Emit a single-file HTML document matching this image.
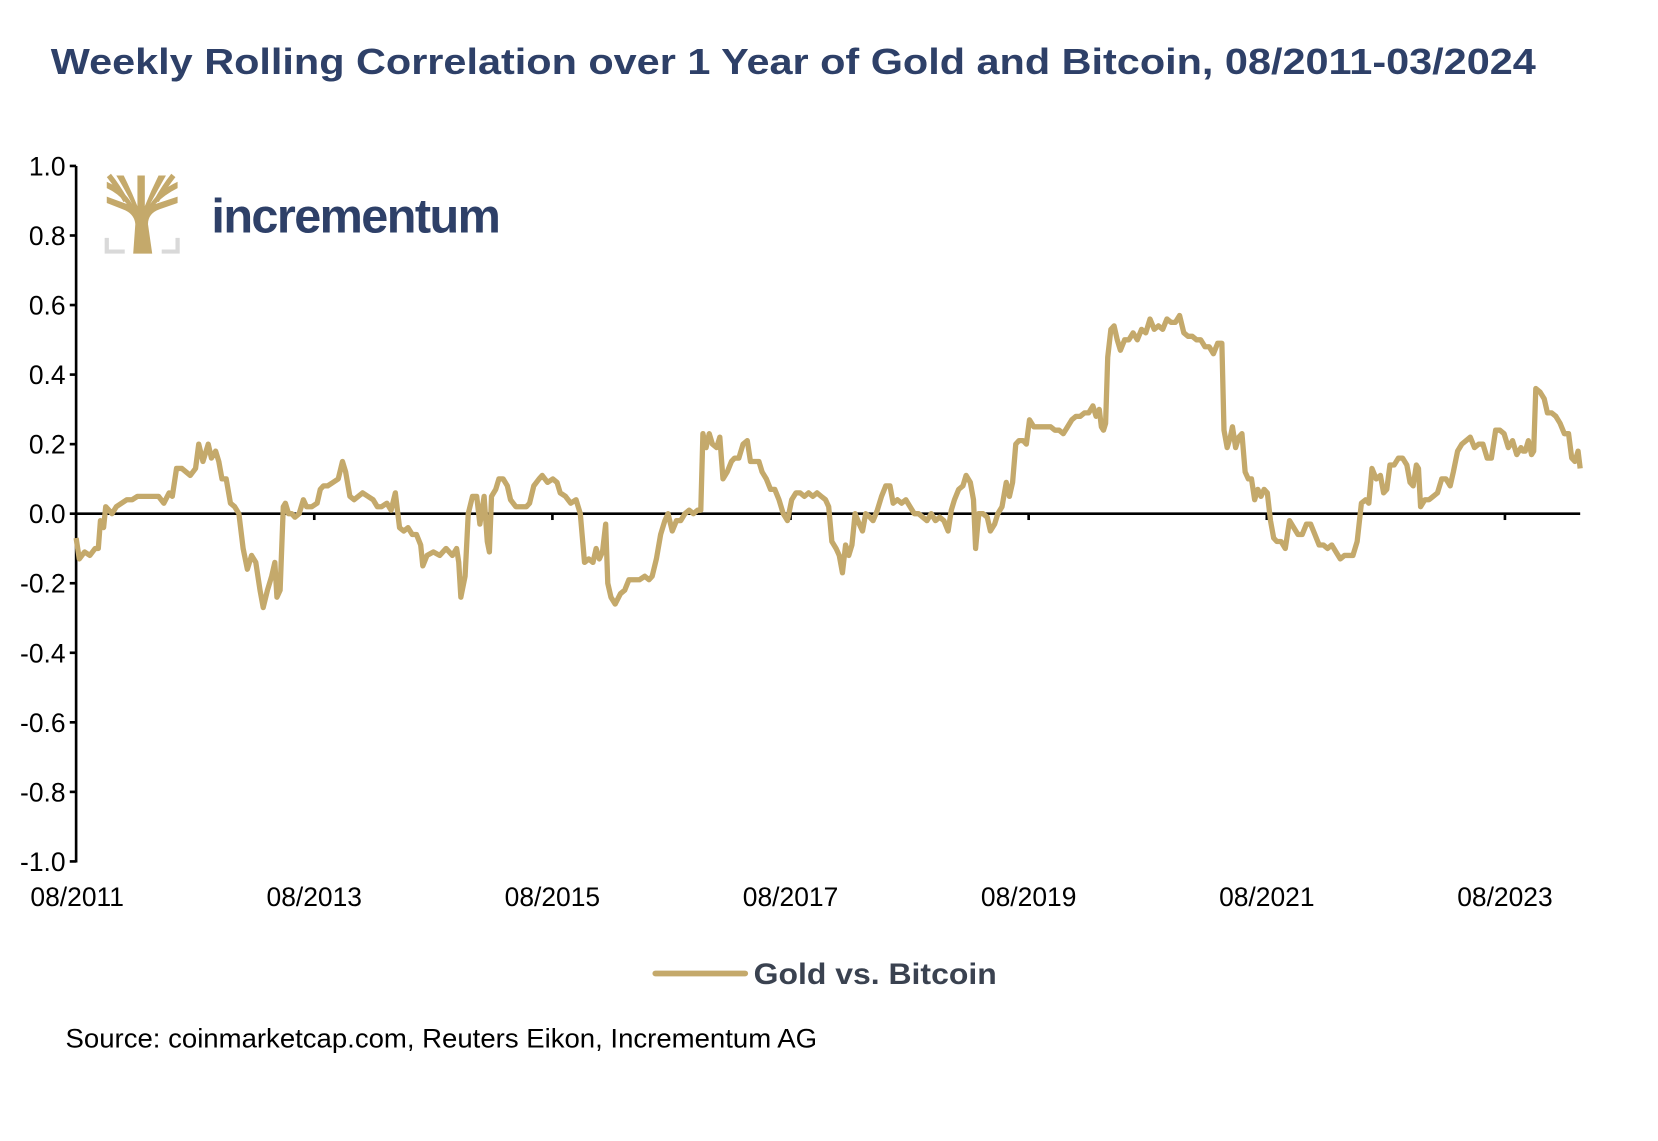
<!DOCTYPE html>
<html><head><meta charset="utf-8"><style>
html,body{margin:0;padding:0;background:#fff;}
svg{display:block;}
text{font-family:"Liberation Sans",Arial,sans-serif;}
</style></head><body>
<svg id="c" width="1658" height="1141" viewBox="0 0 1568.6 1079.5" xmlns="http://www.w3.org/2000/svg">
<text x="48" y="70" font-size="34" font-weight="bold" fill="#2e4068" textLength="1405" lengthAdjust="spacingAndGlyphs">Weekly Rolling Correlation over 1 Year of Gold and Bitcoin, 08/2011-03/2024</text>
<!-- logo -->
<g>
<path d="M101 225 V238 H118 M153 238 H168 V225" stroke="#d9d9d9" stroke-width="4" fill="none"/>
<path d="M126 240 L128 212 Q127 202 116 198 L101 192 L101 186 L120 193 Q112 183 101 178 L101 172 Q117 179 125 193 Q119 181 110 166 L117 166 Q124 180 130 195 L130 166 L137 166 L137 195 Q143 180 150 166 L157 166 Q148 182 142 193 Q151 180 168 172 L168 178 Q156 184 147 193 L168 186 L168 192 L151 198 Q140 202 140 212 L144 240 Z" fill="#c4a96b"/>
<path d="M103 166 Q111 176 119 190 M164 166 Q156 176 148 190" stroke="#c4a96b" stroke-width="5" fill="none"/>
</g>
<text x="200" y="220" font-size="46" font-weight="bold" fill="#2e4068" letter-spacing="-1.5">incrementum</text>
<!-- axes -->
<g font-size="25" fill="#000" text-anchor="end" id="yl"></g>
<line x1="72" y1="157" x2="72" y2="816" stroke="#000" stroke-width="2.5"/>
<line x1="72" y1="486" x2="1495" y2="486" stroke="#000" stroke-width="2.5"/>
<g id="xt"></g>
<polyline id="s" fill="none" stroke="#c4a96b" stroke-width="5" stroke-linejoin="round"/>
<line x1="620" y1="921" x2="705" y2="921" stroke="#c4a96b" stroke-width="5.5" stroke-linecap="round"/>
<text x="713" y="931" font-size="28" font-weight="bold" fill="#3a4250" textLength="230" lengthAdjust="spacingAndGlyphs">Gold vs. Bitcoin</text>
<text x="62" y="991" font-size="25" fill="#000" textLength="711" lengthAdjust="spacingAndGlyphs">Source: coinmarketcap.com, Reuters Eikon, Incrementum AG</text>
</svg>
<script>
var ns="http://www.w3.org/2000/svg";
var yl=document.getElementById('yl');
var labs=["1.0","0.8","0.6","0.4","0.2","0.0","-0.2","-0.4","-0.6","-0.8","-1.0"];
for(var i=0;i<11;i++){var y=157+i*65.8;
var t=document.createElementNS(ns,'text');t.setAttribute('x',62);t.setAttribute('y',y+9);t.textContent=labs[i];yl.appendChild(t);
var l=document.createElementNS(ns,'line');l.setAttribute('x1',66);l.setAttribute('x2',72);l.setAttribute('y1',y);l.setAttribute('y2',y);l.setAttribute('stroke','#000');l.setAttribute('stroke-width',2.5);yl.appendChild(l);}
var xt=document.getElementById('xt');
var xl=["08/2011","08/2013","08/2015","08/2017","08/2019","08/2021","08/2023"];
for(var i=0;i<7;i++){var x=72+i*225.3;
var l=document.createElementNS(ns,'line');l.setAttribute('x1',x);l.setAttribute('x2',x);l.setAttribute('y1',486);l.setAttribute('y2',492);l.setAttribute('stroke','#000');l.setAttribute('stroke-width',2.5);xt.appendChild(l);
var t=document.createElementNS(ns,'text');t.setAttribute('x',i==0?73:x);t.setAttribute('y',857);t.setAttribute('text-anchor','middle');t.setAttribute('font-size','25');t.textContent=xl[i];xt.appendChild(t);}
var d=[72,-0.07,75,-0.13,80,-0.11,85,-0.12,90,-0.1,93,-0.1,95,-0.02,98,-0.04,100,0.02,103,0.01,106,0.0,110,0.02,115,0.03,120,0.04,125,0.04,130,0.05,140,0.05,150,0.05,155,0.03,160,0.06,163,0.05,167,0.13,172,0.13,180,0.11,185,0.13,188,0.2,192,0.15,197,0.2,200,0.16,204,0.18,207,0.15,210,0.1,214,0.1,218,0.03,222,0.02,226,0.0,230,-0.1,234,-0.16,238,-0.12,242,-0.14,246,-0.22,249,-0.27,253,-0.22,257,-0.18,260,-0.14,262,-0.24,265,-0.22,268,0.02,270,0.03,273,0.0,276,0.0,279,-0.01,283,0.0,287,0.04,290,0.02,295,0.02,300,0.03,303,0.07,306,0.08,310,0.08,315,0.09,320,0.1,324,0.15,327,0.12,331,0.05,335,0.04,339,0.05,343,0.06,348,0.05,353,0.04,357,0.02,361,0.02,366,0.03,370,0.01,374,0.06,378,-0.04,382,-0.05,386,-0.04,390,-0.06,394,-0.06,398,-0.09,400,-0.15,404,-0.12,410,-0.11,416,-0.12,422,-0.1,428,-0.12,432,-0.1,434,-0.14,436,-0.24,440,-0.18,443,0.0,447,0.05,451,0.05,454,-0.03,458,0.05,461,-0.08,463,-0.11,465,0.05,469,0.07,472,0.1,476,0.1,480,0.08,483,0.04,488,0.02,493,0.02,498,0.02,501,0.03,505,0.08,510,0.1,513,0.11,518,0.09,523,0.1,527,0.09,530,0.06,535,0.05,540,0.03,545,0.04,549,0.0,553,-0.14,557,-0.13,561,-0.14,564,-0.1,567,-0.13,570,-0.11,573,-0.03,575,-0.2,578,-0.24,582,-0.26,587,-0.23,591,-0.22,595,-0.19,600,-0.19,605,-0.19,610,-0.18,614,-0.19,617,-0.18,621,-0.13,625,-0.06,629,-0.02,632,0.0,636,-0.05,640,-0.02,644,-0.02,648,0.0,652,0.01,656,0.0,660,0.01,663,0.01,665,0.23,668,0.19,671,0.23,674,0.2,678,0.19,681,0.22,684,0.1,688,0.12,692,0.15,695,0.16,699,0.16,703,0.2,707,0.21,710,0.15,714,0.15,718,0.15,721,0.12,725,0.1,729,0.07,733,0.07,737,0.04,741,0.0,745,-0.02,749,0.04,753,0.06,757,0.06,761,0.05,765,0.06,769,0.05,773,0.06,777,0.05,781,0.04,784,0.02,787,-0.08,791,-0.1,794,-0.12,797,-0.17,800,-0.09,803,-0.12,806,-0.09,809,0.0,813,-0.03,816,-0.05,819,0.0,823,-0.01,826,-0.02,830,0.01,834,0.05,838,0.08,842,0.08,845,0.03,849,0.04,853,0.03,857,0.04,861,0.02,865,0.0,869,0.0,873,-0.01,877,-0.02,881,0.0,885,-0.02,889,-0.01,893,-0.02,897,-0.05,900,0.01,903,0.04,907,0.07,911,0.08,914,0.11,918,0.09,921,0.04,923,-0.1,926,0.0,930,0.0,934,-0.01,937,-0.05,941,-0.03,944,0.0,948,0.02,952,0.09,955,0.05,958,0.09,961,0.2,964,0.21,968,0.21,971,0.2,974,0.27,978,0.25,982,0.25,986,0.25,990,0.25,994,0.25,998,0.24,1002,0.24,1006,0.23,1010,0.25,1014,0.27,1018,0.28,1022,0.28,1026,0.29,1030,0.29,1034,0.31,1037,0.28,1040,0.3,1042,0.25,1044,0.24,1046,0.26,1048,0.45,1051,0.53,1054,0.54,1057,0.5,1060,0.47,1064,0.5,1068,0.5,1072,0.52,1076,0.5,1080,0.53,1084,0.52,1088,0.56,1092,0.53,1096,0.54,1100,0.53,1104,0.56,1108,0.55,1112,0.55,1116,0.57,1120,0.52,1124,0.51,1128,0.51,1132,0.5,1136,0.5,1140,0.48,1144,0.48,1148,0.46,1152,0.49,1156,0.49,1158,0.24,1161,0.19,1164,0.22,1166,0.25,1169,0.19,1172,0.22,1175,0.23,1178,0.12,1181,0.1,1184,0.1,1187,0.04,1190,0.07,1193,0.05,1196,0.07,1199,0.06,1202,-0.02,1205,-0.07,1208,-0.08,1212,-0.08,1216,-0.1,1220,-0.02,1224,-0.04,1228,-0.06,1232,-0.06,1236,-0.03,1240,-0.03,1244,-0.06,1248,-0.09,1252,-0.09,1256,-0.1,1260,-0.09,1264,-0.11,1268,-0.13,1272,-0.12,1276,-0.12,1280,-0.12,1284,-0.08,1288,0.03,1292,0.04,1295,0.03,1298,0.13,1302,0.1,1306,0.11,1309,0.06,1312,0.07,1315,0.14,1319,0.14,1323,0.16,1327,0.16,1331,0.14,1334,0.09,1337,0.08,1340,0.14,1342,0.13,1344,0.02,1348,0.04,1352,0.04,1356,0.05,1360,0.06,1364,0.1,1368,0.1,1372,0.08,1375,0.12,1379,0.18,1383,0.2,1387,0.21,1391,0.22,1395,0.19,1399,0.2,1403,0.2,1407,0.16,1411,0.16,1415,0.24,1419,0.24,1423,0.23,1427,0.19,1431,0.21,1435,0.17,1439,0.19,1441,0.18,1443,0.18,1446,0.21,1449,0.17,1451,0.18,1453,0.36,1457,0.35,1461,0.33,1464,0.29,1468,0.29,1472,0.28,1476,0.26,1480,0.23,1484,0.23,1487,0.16,1490,0.15,1493,0.18,1495,0.13];
var p=[];for(var i=0;i<d.length;i+=2){p.push(d[i]+','+(486-329*d[i+1]).toFixed(1));}
document.getElementById('s').setAttribute('points',p.join(' '));
</script>
</body></html>
